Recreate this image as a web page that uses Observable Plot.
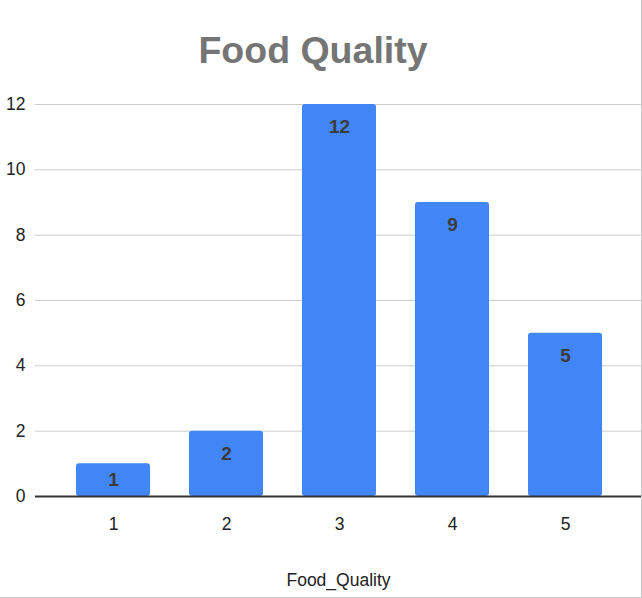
<!DOCTYPE html>
<html>
<head>
<meta charset="utf-8">
<script src="https://cdn.jsdelivr.net/npm/d3@7"></script>
<script src="https://cdn.jsdelivr.net/npm/@observablehq/plot@0.6"></script>
<style>
  html, body { margin: 0; padding: 0; background: #fff; }
  #wrap { position: relative; width: 641px; height: 597px; border-right: 1px solid #c8c8c8; border-bottom: 1px solid #c8c8c8; overflow: hidden; font-family: "Liberation Sans", Arial, sans-serif; }
  #title { position: absolute; left: 0; top: 0; width: 626px; height: 80px; text-align: center; line-height: 100px; font-size: 37.5px; font-weight: bold; color: #757575; }
  #chart { position: absolute; left: 0; top: 80px; }
</style>
</head>
<body>
<div id="wrap">
  <div id="title">Food Quality</div>
  <div id="chart"></div>
</div>
<script>
const categories = ["1", "2", "3", "4", "5"];
const counts = [1, 2, 12, 9, 5];
const yTicks = [0, 2, 4, 6, 8, 10, 12];
const xLabel = "Food_Quality";

const data = categories.map((c, i) => ({cat: c, n: counts[i]}));

const plot = Plot.plot({
  width: 641,
  height: 517,
  marginTop: 24,
  marginBottom: 101,
  marginLeft: 35,
  marginRight: 0,
  style: {fontFamily: "'Liberation Sans', Arial, sans-serif", fontSize: "17px", color: "#222", background: "#fff"},
  x: {domain: categories, range: [56.5, 621.5], paddingInner: 0.345, paddingOuter: 0.1725, label: null},
  y: {domain: [0, 12], label: null},
  marks: [
    Plot.ruleY(yTicks.filter(d => d > 0), {stroke: "#cccccc", strokeWidth: 1}),
    Plot.axisY({ticks: yTicks, tickSize: 0, tickPadding: 10, fontSize: 17.5, fill: "#222", tickFormat: d => d}),
    Plot.barY(data, {x: "cat", y: "n", fill: "#4285f4", rx: 3}),
    Plot.ruleY([0], {stroke: "#333", strokeWidth: 2}),
    Plot.text(data, {x: "cat", y: d => Math.max(d.n - 0.7, d.n / 2), text: d => String(d.n), fill: "#3c3c3c", fontWeight: "bold", fontSize: 19}),
    Plot.axisX({tickSize: 0, tickPadding: 21, fontSize: 17.5, fill: "#222"}),
    Plot.text([xLabel], {frameAnchor: "bottom", dy: 89, text: d => d, fontSize: 17.5, fill: "#222"})
  ]
});
document.getElementById("chart").appendChild(plot);
</script>
</body>
</html>
